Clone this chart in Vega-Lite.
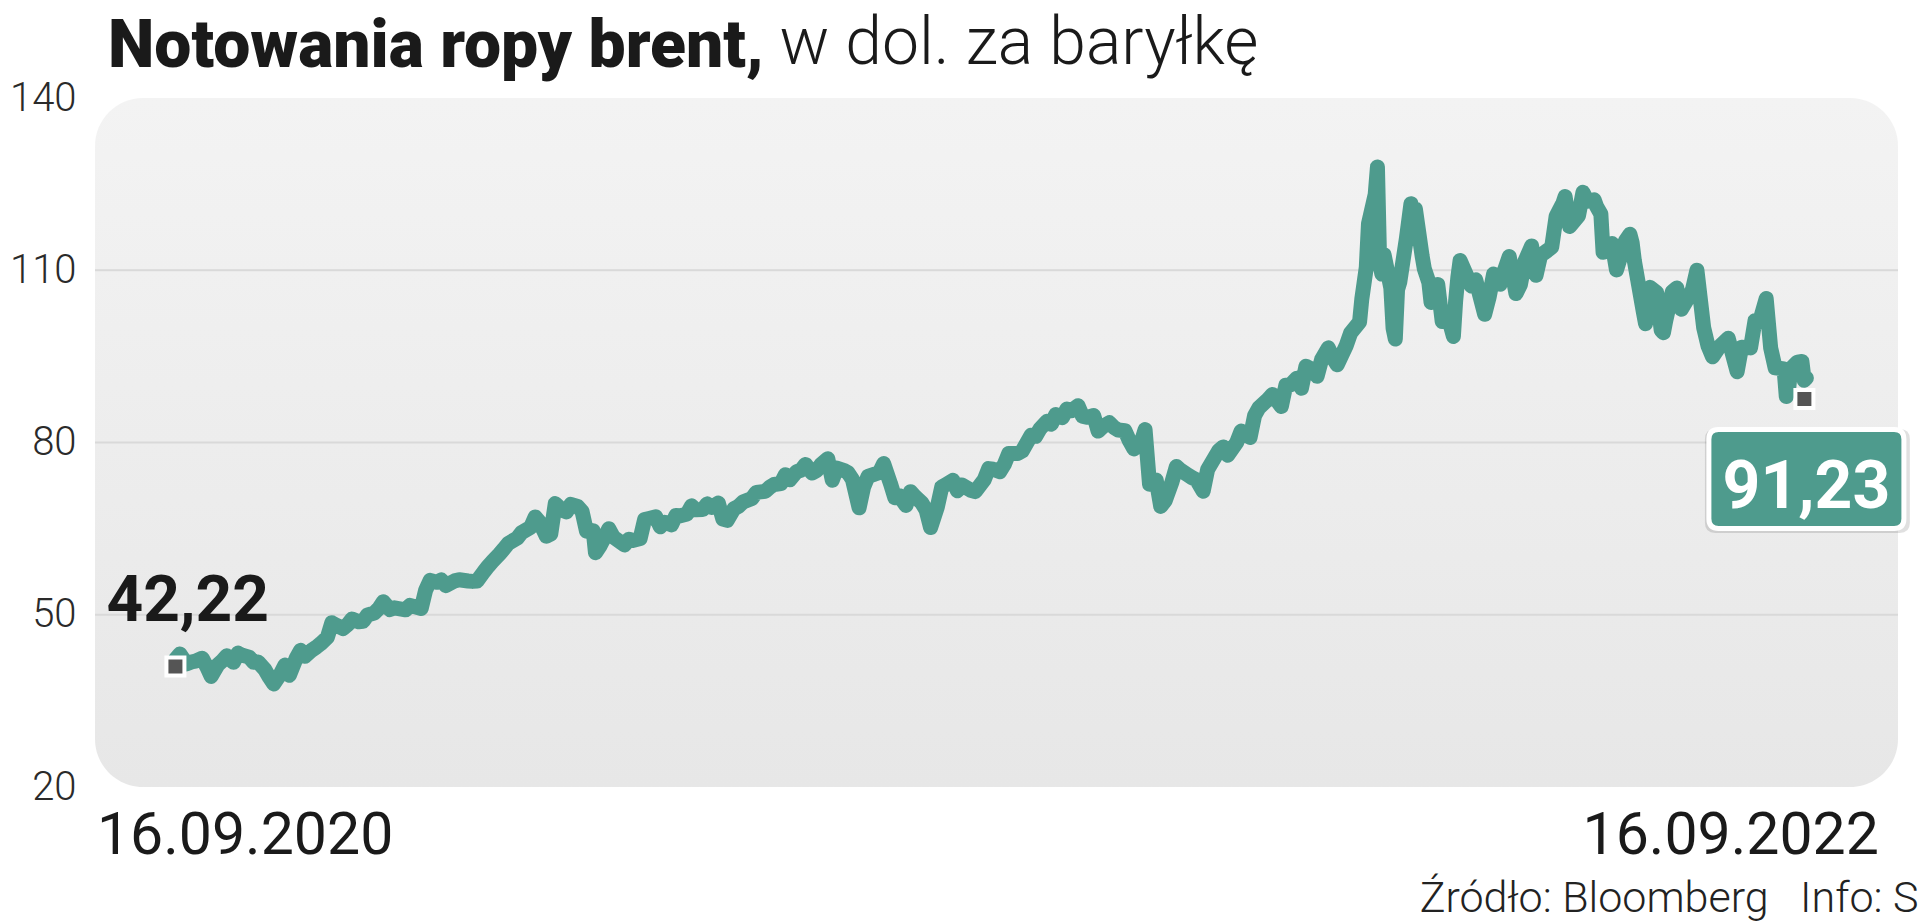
{
  "$schema": "https://vega.github.io/schema/vega-lite/v6.json",
  "autosize": {"type": "none"},
  "width": 1803,
  "height": 689,
  "padding": {"left": 95, "top": 98, "right": 22, "bottom": 137},
  "background": "#ffffff",
  "config": {"view": {"stroke": null}},
  "title": {
    "text": "Notowania ropy brent,",
    "anchor": "start",
    "frame": "group",
    "font": "Roboto",
    "fontSize": 66,
    "fontWeight": 900,
    "color": "#1a1a1a",
    "baseline": "alphabetic",
    "dx": 13,
    "offset": -123
  },
  "datasets": {
    "brent": [
      {"d":"2020-09-16","v":42.22},{"d":"2020-09-18","v":43.15},{"d":"2020-09-21","v":41.44},{"d":"2020-09-23","v":41.77},{"d":"2020-09-25","v":41.92},{"d":"2020-09-28","v":42.43},{"d":"2020-09-30","v":40.95},{"d":"2020-10-02","v":39.27},{"d":"2020-10-05","v":41.29},{"d":"2020-10-07","v":41.99},{"d":"2020-10-09","v":42.85},{"d":"2020-10-12","v":41.72},{"d":"2020-10-14","v":43.32},{"d":"2020-10-16","v":42.93},{"d":"2020-10-19","v":42.62},{"d":"2020-10-21","v":41.73},{"d":"2020-10-23","v":41.77},{"d":"2020-10-26","v":40.46},{"d":"2020-10-28","v":39.12},{"d":"2020-10-30","v":37.94},
      {"d":"2020-11-02","v":39.71},{"d":"2020-11-04","v":41.23},{"d":"2020-11-06","v":39.45},{"d":"2020-11-09","v":42.40},{"d":"2020-11-11","v":43.80},{"d":"2020-11-13","v":42.78},{"d":"2020-11-16","v":43.82},{"d":"2020-11-18","v":44.34},{"d":"2020-11-20","v":44.96},{"d":"2020-11-23","v":46.06},{"d":"2020-11-25","v":48.61},{"d":"2020-11-27","v":48.18},{"d":"2020-11-30","v":47.59},
      {"d":"2020-12-02","v":48.25},{"d":"2020-12-04","v":49.25},{"d":"2020-12-07","v":48.79},{"d":"2020-12-09","v":48.86},{"d":"2020-12-11","v":49.97},{"d":"2020-12-14","v":50.29},{"d":"2020-12-16","v":51.08},{"d":"2020-12-18","v":52.26},{"d":"2020-12-21","v":50.91},{"d":"2020-12-23","v":51.20},{"d":"2020-12-28","v":50.86},{"d":"2020-12-30","v":51.63},
      {"d":"2021-01-04","v":51.09},{"d":"2021-01-06","v":54.30},{"d":"2021-01-08","v":55.99},{"d":"2021-01-11","v":55.66},{"d":"2021-01-13","v":56.06},{"d":"2021-01-15","v":55.10},{"d":"2021-01-19","v":55.90},{"d":"2021-01-21","v":56.10},{"d":"2021-01-25","v":55.88},{"d":"2021-01-27","v":55.81},{"d":"2021-01-29","v":55.88},
      {"d":"2021-02-01","v":57.46},{"d":"2021-02-03","v":58.46},{"d":"2021-02-05","v":59.34},{"d":"2021-02-08","v":60.56},{"d":"2021-02-10","v":61.47},{"d":"2021-02-12","v":62.43},{"d":"2021-02-16","v":63.35},{"d":"2021-02-18","v":64.34},{"d":"2021-02-22","v":65.24},{"d":"2021-02-24","v":67.04},{"d":"2021-02-26","v":66.13},
      {"d":"2021-03-01","v":63.69},{"d":"2021-03-03","v":64.07},{"d":"2021-03-05","v":69.36},{"d":"2021-03-08","v":68.24},{"d":"2021-03-10","v":67.90},{"d":"2021-03-12","v":69.22},{"d":"2021-03-15","v":68.88},{"d":"2021-03-17","v":68.00},{"d":"2021-03-19","v":64.53},{"d":"2021-03-22","v":64.62},{"d":"2021-03-23","v":60.79},{"d":"2021-03-25","v":61.95},{"d":"2021-03-29","v":64.98},{"d":"2021-03-31","v":63.54},
      {"d":"2021-04-05","v":62.15},{"d":"2021-04-07","v":63.16},{"d":"2021-04-09","v":62.95},{"d":"2021-04-12","v":63.28},{"d":"2021-04-14","v":66.58},{"d":"2021-04-16","v":66.77},{"d":"2021-04-19","v":67.05},{"d":"2021-04-21","v":65.32},{"d":"2021-04-23","v":66.11},{"d":"2021-04-26","v":65.65},{"d":"2021-04-28","v":67.27},{"d":"2021-04-30","v":67.25},
      {"d":"2021-05-03","v":67.56},{"d":"2021-05-05","v":68.96},{"d":"2021-05-07","v":68.28},{"d":"2021-05-10","v":68.32},{"d":"2021-05-12","v":69.32},{"d":"2021-05-14","v":68.71},{"d":"2021-05-17","v":69.46},{"d":"2021-05-19","v":66.66},{"d":"2021-05-21","v":66.44},{"d":"2021-05-24","v":68.46},{"d":"2021-05-26","v":68.87},{"d":"2021-05-28","v":69.63},
      {"d":"2021-06-01","v":70.25},{"d":"2021-06-03","v":71.31},{"d":"2021-06-07","v":71.49},{"d":"2021-06-09","v":72.22},{"d":"2021-06-11","v":72.69},{"d":"2021-06-14","v":72.86},{"d":"2021-06-16","v":74.39},{"d":"2021-06-18","v":73.51},{"d":"2021-06-21","v":74.90},{"d":"2021-06-23","v":75.19},{"d":"2021-06-25","v":76.18},{"d":"2021-06-28","v":74.68},{"d":"2021-06-30","v":75.13},
      {"d":"2021-07-02","v":76.17},{"d":"2021-07-05","v":77.16},{"d":"2021-07-07","v":73.43},{"d":"2021-07-09","v":75.55},{"d":"2021-07-12","v":75.16},{"d":"2021-07-14","v":74.76},{"d":"2021-07-16","v":73.59},{"d":"2021-07-19","v":68.62},{"d":"2021-07-21","v":72.23},{"d":"2021-07-23","v":74.10},{"d":"2021-07-26","v":74.50},{"d":"2021-07-28","v":74.74},{"d":"2021-07-30","v":76.33},
      {"d":"2021-08-02","v":72.89},{"d":"2021-08-04","v":70.38},{"d":"2021-08-06","v":70.70},{"d":"2021-08-09","v":69.04},{"d":"2021-08-11","v":71.44},{"d":"2021-08-13","v":70.59},{"d":"2021-08-16","v":69.51},{"d":"2021-08-18","v":68.23},{"d":"2021-08-20","v":65.18},{"d":"2021-08-23","v":68.75},{"d":"2021-08-25","v":72.25},{"d":"2021-08-27","v":72.70},{"d":"2021-08-30","v":73.41},
      {"d":"2021-09-01","v":71.59},{"d":"2021-09-03","v":72.61},{"d":"2021-09-07","v":71.69},{"d":"2021-09-09","v":71.45},{"d":"2021-09-13","v":73.51},{"d":"2021-09-15","v":75.46},{"d":"2021-09-17","v":75.34},{"d":"2021-09-20","v":74.92},{"d":"2021-09-22","v":76.19},{"d":"2021-09-24","v":78.09},{"d":"2021-09-28","v":78.09},{"d":"2021-09-30","v":78.52},
      {"d":"2021-10-04","v":81.26},{"d":"2021-10-06","v":81.08},{"d":"2021-10-08","v":82.39},{"d":"2021-10-11","v":83.65},{"d":"2021-10-13","v":83.18},{"d":"2021-10-15","v":84.86},{"d":"2021-10-18","v":84.33},{"d":"2021-10-20","v":85.82},{"d":"2021-10-22","v":85.53},{"d":"2021-10-25","v":86.40},{"d":"2021-10-27","v":84.58},{"d":"2021-10-29","v":84.38},
      {"d":"2021-11-01","v":84.71},{"d":"2021-11-03","v":81.99},{"d":"2021-11-05","v":82.74},{"d":"2021-11-08","v":83.43},{"d":"2021-11-10","v":82.64},{"d":"2021-11-12","v":82.17},{"d":"2021-11-15","v":82.05},{"d":"2021-11-17","v":80.28},{"d":"2021-11-19","v":78.89},{"d":"2021-11-22","v":79.70},{"d":"2021-11-24","v":82.25},{"d":"2021-11-26","v":72.72},{"d":"2021-11-29","v":73.44},
      {"d":"2021-12-01","v":68.87},{"d":"2021-12-03","v":69.88},{"d":"2021-12-06","v":73.08},{"d":"2021-12-08","v":75.82},{"d":"2021-12-10","v":75.15},{"d":"2021-12-13","v":74.39},{"d":"2021-12-15","v":73.88},{"d":"2021-12-17","v":73.52},{"d":"2021-12-20","v":71.52},{"d":"2021-12-22","v":75.29},{"d":"2021-12-27","v":78.60},{"d":"2021-12-29","v":79.23},{"d":"2021-12-31","v":77.78},
      {"d":"2022-01-04","v":80.00},{"d":"2022-01-06","v":81.99},{"d":"2022-01-10","v":80.87},{"d":"2022-01-12","v":84.67},{"d":"2022-01-14","v":86.06},{"d":"2022-01-18","v":87.51},{"d":"2022-01-20","v":88.38},{"d":"2022-01-24","v":86.27},{"d":"2022-01-26","v":89.96},{"d":"2022-01-28","v":90.03},{"d":"2022-01-31","v":91.21},
      {"d":"2022-02-02","v":89.47},{"d":"2022-02-04","v":93.27},{"d":"2022-02-07","v":92.69},{"d":"2022-02-09","v":91.55},{"d":"2022-02-11","v":94.44},{"d":"2022-02-14","v":96.48},{"d":"2022-02-16","v":94.81},{"d":"2022-02-18","v":93.54},{"d":"2022-02-22","v":96.84},{"d":"2022-02-24","v":99.08},{"d":"2022-02-28","v":100.99},
      {"d":"2022-03-01","v":104.97},{"d":"2022-03-03","v":110.46},{"d":"2022-03-04","v":118.11},{"d":"2022-03-07","v":123.21},{"d":"2022-03-08","v":127.98},{"d":"2022-03-09","v":111.14},{"d":"2022-03-10","v":109.33},{"d":"2022-03-11","v":112.67},{"d":"2022-03-14","v":106.90},{"d":"2022-03-15","v":99.91},{"d":"2022-03-16","v":98.02},{"d":"2022-03-17","v":106.64},{"d":"2022-03-18","v":107.93},{"d":"2022-03-21","v":115.62},{"d":"2022-03-23","v":121.60},{"d":"2022-03-24","v":119.03},{"d":"2022-03-25","v":120.65},{"d":"2022-03-28","v":112.48},{"d":"2022-03-29","v":110.23},{"d":"2022-03-31","v":107.91},
      {"d":"2022-04-01","v":104.39},{"d":"2022-04-04","v":107.53},{"d":"2022-04-06","v":101.07},{"d":"2022-04-08","v":102.78},{"d":"2022-04-11","v":98.48},{"d":"2022-04-12","v":104.64},{"d":"2022-04-13","v":108.78},{"d":"2022-04-14","v":111.70},{"d":"2022-04-19","v":107.25},{"d":"2022-04-21","v":108.33},{"d":"2022-04-25","v":102.32},{"d":"2022-04-27","v":105.32},{"d":"2022-04-29","v":109.34},
      {"d":"2022-05-02","v":107.58},{"d":"2022-05-04","v":110.14},{"d":"2022-05-06","v":112.39},{"d":"2022-05-09","v":105.94},{"d":"2022-05-11","v":107.51},{"d":"2022-05-13","v":111.55},{"d":"2022-05-16","v":114.24},{"d":"2022-05-18","v":109.11},{"d":"2022-05-20","v":112.55},{"d":"2022-05-23","v":113.42},{"d":"2022-05-25","v":114.03},{"d":"2022-05-27","v":119.43},{"d":"2022-05-30","v":121.67},{"d":"2022-05-31","v":122.84},
      {"d":"2022-06-02","v":117.61},{"d":"2022-06-06","v":119.51},{"d":"2022-06-08","v":123.58},{"d":"2022-06-10","v":122.01},{"d":"2022-06-13","v":122.27},{"d":"2022-06-14","v":121.17},{"d":"2022-06-16","v":119.81},{"d":"2022-06-17","v":113.12},{"d":"2022-06-21","v":114.65},{"d":"2022-06-23","v":110.05},{"d":"2022-06-27","v":115.09},{"d":"2022-06-29","v":116.26},{"d":"2022-06-30","v":114.81},
      {"d":"2022-07-01","v":111.63},{"d":"2022-07-05","v":102.77},{"d":"2022-07-06","v":100.69},{"d":"2022-07-08","v":107.02},{"d":"2022-07-11","v":106.10},{"d":"2022-07-13","v":99.57},{"d":"2022-07-14","v":99.10},{"d":"2022-07-15","v":101.16},{"d":"2022-07-18","v":106.27},{"d":"2022-07-20","v":106.92},{"d":"2022-07-21","v":103.86},{"d":"2022-07-22","v":103.20},{"d":"2022-07-25","v":105.15},{"d":"2022-07-27","v":106.62},{"d":"2022-07-29","v":110.01},
      {"d":"2022-08-01","v":100.03},{"d":"2022-08-03","v":96.78},{"d":"2022-08-05","v":94.92},{"d":"2022-08-08","v":96.65},{"d":"2022-08-10","v":97.40},{"d":"2022-08-12","v":98.15},{"d":"2022-08-16","v":92.34},{"d":"2022-08-18","v":96.59},{"d":"2022-08-22","v":96.48},{"d":"2022-08-24","v":101.22},{"d":"2022-08-26","v":100.99},{"d":"2022-08-29","v":105.09},{"d":"2022-08-31","v":96.49},
      {"d":"2022-09-02","v":93.02},{"d":"2022-09-06","v":92.83},{"d":"2022-09-07","v":88.00},{"d":"2022-09-08","v":89.15},{"d":"2022-09-09","v":92.84},{"d":"2022-09-12","v":94.00},{"d":"2022-09-14","v":94.10},{"d":"2022-09-15","v":90.84},{"d":"2022-09-16","v":91.23}
    ],
    "ends": [
      {"d":"2020-09-16","v":42.22,"label":"42,22","pos":"start"},
      {"d":"2022-09-16","v":91.23,"label":"91,23","pos":"end"}
    ],
    "panel": [{"d":"2020-08-11","d2":"2022-10-27","v":20,"v2":140}],
    "grid": [{"g":50},{"g":80},{"g":110}]
  },
  "encoding": {
    "x": {
      "field": "d",
      "type": "temporal",
      "scale": {"type": "utc", "domain": [{"year":2020,"month":8,"date":11,"utc":true},{"year":2022,"month":10,"date":27,"utc":true}]},
      "axis": {
        "values": [{"year":2020,"month":9,"date":16,"utc":true},{"year":2022,"month":9,"date":16,"utc":true}],
        "format": "%d.%m.%Y",
        "domain": false,
        "ticks": false,
        "tickSize": 0,
        "grid": false,
        "labelFlush": false,
        "labelOverlap": false,
        "labelBound": false,
        "labelLimit": 0,
        "labelFont": "Roboto",
        "labelFontSize": 59,
        "labelFontWeight": 400,
        "labelColor": "#1a1a1a",
        "labelBaseline": "alphabetic",
        "labelPadding": 66,
        "labelAlign": {"condition": {"test": "datum.index == 0", "value": "left"}, "value": "right"},
        "labelOffset": {"condition": {"test": "datum.index == 0", "value": -79}, "value": 72},
        "title": "Źródło: Bloomberg\u00a0\u00a0 Info: S",
        "titleFont": "Roboto",
        "titleFontSize": 43,
        "titleFontWeight": 300,
        "titleColor": "#222222",
        "titleAnchor": "end",
        "titleAlign": "right",
        "titleBaseline": "alphabetic",
        "titleLimit": 0,
        "titleX": 1823,
        "titleY": 124
      }
    },
    "y": {
      "field": "v",
      "type": "quantitative",
      "scale": {"domain": [20, 140], "nice": false, "zero": false},
      "axis": {
        "values": [20, 50, 80, 110, 140],
        "domain": false,
        "ticks": false,
        "tickSize": 0,
        "grid": false,
        "labelFont": "Roboto",
        "labelFontSize": 40,
        "labelFontWeight": 300,
        "labelColor": "#2a2a2a",
        "labelPadding": 19,
        "labelAlign": "right",
        "labelBaseline": "middle",
        "title": "w dol. za baryłkę",
        "titleFont": "Roboto",
        "titleFontSize": 66,
        "titleFontWeight": 300,
        "titleColor": "#1a1a1a",
        "titleAngle": 0,
        "titleAlign": "left",
        "titleBaseline": "alphabetic",
        "titleLimit": 0,
        "titleX": 684,
        "titleY": -35
      }
    }
  },
  "layer": [
    {
      "data": {"name": "panel"},
      "mark": {
        "type": "rect",
        "cornerRadius": 48,
        "fill": {"gradient": "linear", "x1": 0, "y1": 0, "x2": 0, "y2": 1, "stops": [{"offset": 0, "color": "#f3f3f3"}, {"offset": 1, "color": "#e7e7e7"}]}
      },
      "encoding": {
        "x2": {"field": "d2"},
        "y2": {"field": "v2"}
      }
    },
    {
      "data": {"name": "grid"},
      "mark": {"type": "rule", "color": "#d9d9d9", "strokeWidth": 2},
      "encoding": {"x": null, "y": {"field": "g", "type": "quantitative"}}
    },
    {
      "data": {"name": "brent"},
      "mark": {"type": "line", "color": "#4e9b8d", "strokeWidth": 15, "strokeCap": "round", "strokeJoin": "round"}
    },
    {
      "data": {"name": "ends"},
      "transform": [{"filter": "datum.pos == 'start'"}],
      "layer": [
        {"mark": {"type": "point", "shape": "square", "size": 324, "filled": true, "fill": "#555555", "stroke": "#ffffff", "strokeWidth": 4, "opacity": 1, "yOffset": 7}},
        {"mark": {"type": "text", "font": "Roboto", "fontSize": 64, "fontWeight": 700, "color": "#1a1a1a", "align": "left", "baseline": "alphabetic", "dx": -69, "dy": -38}, "encoding": {"text": {"field": "label"}}}
      ]
    },
    {
      "data": {"name": "ends"},
      "transform": [{"filter": "datum.pos == 'end'"}],
      "layer": [
        {"mark": {"type": "point", "shape": "square", "size": 324, "filled": true, "fill": "#555555", "stroke": "#ffffff", "strokeWidth": 4, "opacity": 1, "xOffset": -2, "yOffset": 21}},
        {"mark": {"type": "point", "shape": "M -0.9 -0.508 L 0.9 -0.508 Q 1 -0.508 1 -0.408 L 1 0.408 Q 1 0.508 0.9 0.508 L -0.9 0.508 Q -1 0.508 -1 0.408 L -1 -0.408 Q -1 -0.508 -0.9 -0.508 Z", "size": 42000, "filled": true, "fill": "#000000", "opacity": 0.12, "strokeWidth": 0, "xOffset": 1, "yOffset": 103}},
        {"mark": {"type": "point", "shape": "M -0.9 -0.508 L 0.9 -0.508 Q 1 -0.508 1 -0.408 L 1 0.408 Q 1 0.508 0.9 0.508 L -0.9 0.508 Q -1 0.508 -1 0.408 L -1 -0.408 Q -1 -0.508 -0.9 -0.508 Z", "size": 38025, "filled": true, "fill": "#4e9b8d", "stroke": "#ffffff", "strokeWidth": 5, "opacity": 1, "yOffset": 101}},
        {"mark": {"type": "text", "font": "Roboto", "fontSize": 66, "fontWeight": 700, "color": "#ffffff", "align": "center", "baseline": "alphabetic", "dy": 130}, "encoding": {"text": {"field": "label"}}}
      ]
    }
  ]
}
